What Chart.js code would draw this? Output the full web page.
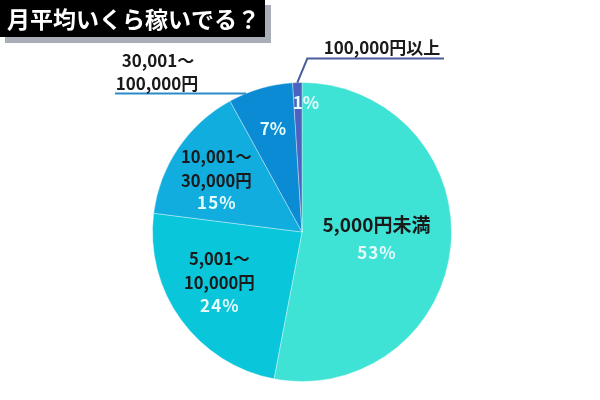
<!DOCTYPE html>
<html><head><meta charset="utf-8">
<script src="https://cdn.jsdelivr.net/npm/chart.js@4/dist/chart.umd.min.js"></script>
<style>html,body{margin:0;padding:0;background:#fff;}#wrap{position:relative;width:600px;height:400px;}</style>
</head><body><div id="wrap"><canvas id="c" width="600" height="400"></canvas></div>
<script>
const title = '月平均いくら稼いでる？';
const categories = [['5,000円未満'], ['5,001～', '10,000円'], ['10,001～', '30,000円'], ['30,001～', '100,000円'], ['100,000円以上']];
const values = [53, 24, 15, 7, 1];
const colors = ['#3fe3d5', '#0ac6db', '#12addf', '#0a8bd3', '#4b62c0'];

const FONT = '"Noto Sans CJK JP","Noto Sans",sans-serif';

// label placement per slice
const place = [
  {r: 0.5, dx: 0, dy: 0, inside: true, size: 19, lh: 28},
  {r: 0.65, dx: -4, dy: -6, inside: true, size: 16.5, lh: 24},
  {r: 0.66, dx: -4, dy: 4, inside: true, size: 16.5, lh: 24},
  {r: 0.72, dx: 1, dy: 0, inside: false},
  {r: 0.88, dx: 8, dy: 2, inside: false}
];

const labelPlugin = {
  id: 'labels',
  afterDraw(chart) {
    const ctx = chart.ctx;
    const meta = chart.getDatasetMeta(0);
    ctx.save();
    // title box
    ctx.fillStyle = '#a9adb8';
    ctx.fillRect(5, 5, 266, 38);
    ctx.fillStyle = '#000';
    ctx.fillRect(0, 0, 265, 37);
    ctx.fillStyle = '#fff';
    ctx.font = 'bold 23px ' + FONT;
    ctx.textAlign = 'left';
    ctx.textBaseline = 'middle';
    ctx.fillText(title, 7, 19);

    ctx.textAlign = 'center';
    meta.data.forEach((arc, i) => {
      const p = arc.getProps(['x', 'y', 'startAngle', 'endAngle', 'outerRadius'], true);
      const mid = (p.startAngle + p.endAngle) / 2;
      const pl = place[i];
      const cx = p.x + Math.cos(mid) * p.outerRadius * pl.r + pl.dx;
      const cy = p.y + Math.sin(mid) * p.outerRadius * pl.r + pl.dy;
      const lines = categories[i];
      const pct = values[i] + '%';
      if (pl.inside) {
        ctx.font = 'bold ' + pl.size + 'px ' + FONT;
        ctx.fillStyle = '#1a1a1a';
        const lh = pl.lh;
        const total = lines.length + 1;
        const y0 = cy - (total - 1) * lh / 2;
        lines.forEach((t, k) => ctx.fillText(t, cx, y0 + k * lh));
        ctx.fillStyle = '#e6fbfb';
        ctx.font = 'bold 17px ' + FONT;
        ctx.fillText(pct.split('').join(String.fromCharCode(8202)), cx, y0 + lines.length * lh - (i === 0 ? 0 : 2));
      } else {
        ctx.fillStyle = '#e6fbfb';
        ctx.font = 'bold 17px ' + FONT;
        ctx.fillText(pct, cx, cy);
        // leader lines and outside labels
        const edgeA = p.startAngle + (p.endAngle - p.startAngle) * (i === 4 ? 0.5 : 0.27);
        const ex = p.x + Math.cos(edgeA) * p.outerRadius;
        const ey = p.y + Math.sin(edgeA) * p.outerRadius;
        ctx.lineWidth = 2;
        ctx.fillStyle = '#1a1a1a';
        ctx.font = 'bold 17px ' + FONT;
        if (i === 3) {
          ctx.strokeStyle = '#2a8cc6';
          ctx.beginPath();
          ctx.moveTo(ex, ey);
          ctx.lineTo(115, ey);
          ctx.stroke();
          ctx.fillText(lines[0], 158, ey - 33);
          ctx.fillText(lines[1], 157, ey - 10);
        } else {
          ctx.strokeStyle = '#4a5c9c';
          ctx.beginPath();
          ctx.moveTo(ex, ey);
          ctx.lineTo(ex + 10, ey - 24);
          ctx.lineTo(444, ey - 24);
          ctx.stroke();
          ctx.fillText(lines[0], 382, ey - 35);
        }
      }
    });
    ctx.restore();
  }
};

new Chart(document.getElementById('c'), {
  type: 'pie',
  data: {
    labels: categories.map(c => c.join('')),
    datasets: [{
      data: values,
      backgroundColor: colors,
      borderColor: 'rgba(255,255,255,0.35)',
      borderWidth: 1
    }]
  },
  options: {
    responsive: false,
    animation: false,
    layout: {padding: {top: 82, bottom: 18, left: 4, right: 0}},
    plugins: {legend: {display: false}, tooltip: {enabled: false}}
  },
  plugins: [labelPlugin]
});
</script></body></html>
